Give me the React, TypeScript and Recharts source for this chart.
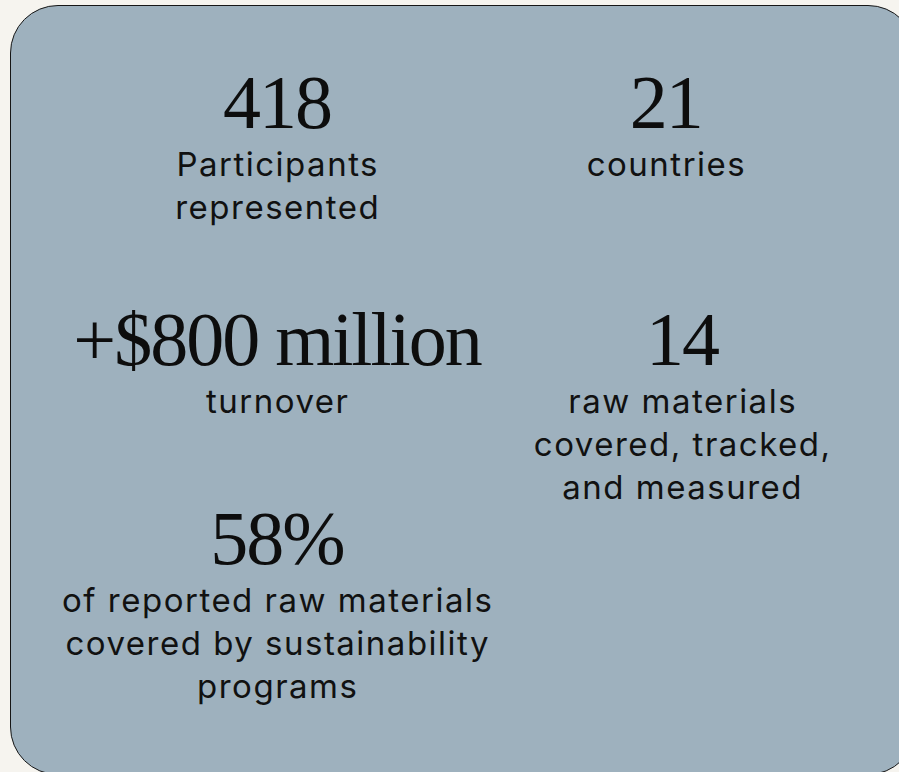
import { Scatter, ScatterChart, XAxis, YAxis } from "recharts";

// headline figures, read left-to-right, top-to-bottom
const figures = ["418", "21", "+$800 million", "14", "58%"];
const captions = [
  ["Participants", "represented"],
  ["countries"],
  ["turnover"],
  ["raw materials", "covered, tracked,", "and measured"],
  ["of reported raw materials", "covered by sustainability", "programs"],
];
// grid slot of each figure (column, row)
const columns = [0, 0.96, 0, 1, 0];
const rows = [0, 0, 1, 1, 1.84];

const stats = figures.map((figure, i) => ({
  figure,
  caption: captions[i],
  col: columns[i],
  row: rows[i],
}));

const SERIF = "'Liberation Serif', 'DejaVu Serif', serif";
const SANS = "Inter, 'Noto Sans', sans-serif";

const StatMark = (props: any) => {
  const { cx, cy, payload } = props;
  return (
    <g>
      <text
        x={cx}
        y={cy}
        textAnchor="middle"
        fontFamily={SERIF}
        fontSize={76}
        letterSpacing={-2}
        fill="#0d0d0d"
      >
        {payload.figure}
      </text>
      {payload.caption.map((line: string, i: number) => (
        <text
          key={line}
          x={cx + 0.75}
          y={cy + 48 + i * 43}
          textAnchor="middle"
          fontFamily={SANS}
          fontSize={33}
          letterSpacing={1.5}
          fill="#111"
        >
          {line}
        </text>
      ))}
    </g>
  );
};

export default function App() {
  return (
    <div
      style={{
        position: "fixed",
        left: 0,
        top: 0,
        width: 899,
        height: 772,
        overflow: "hidden",
        background: "#f6f4ef",
      }}
    >
      <div
        style={{
          position: "absolute",
          left: 10,
          top: 5,
          width: 904,
          height: 768,
          border: "1.5px solid #161616",
          borderRadius: 48,
          background: "#9eb1be",
        }}
      />
      <div style={{ position: "absolute", left: 0, top: 0 }}>
        <ScatterChart width={899} height={772} margin={{ top: 0, right: 0, bottom: 0, left: 0 }}>
          <XAxis type="number" dataKey="col" domain={[-0.684, 1.536]} hide />
          <YAxis type="number" dataKey="row" domain={[-0.54, 2.717]} reversed hide />
          <Scatter data={stats} shape={StatMark} isAnimationActive={false} />
        </ScatterChart>
      </div>
    </div>
  );
}
